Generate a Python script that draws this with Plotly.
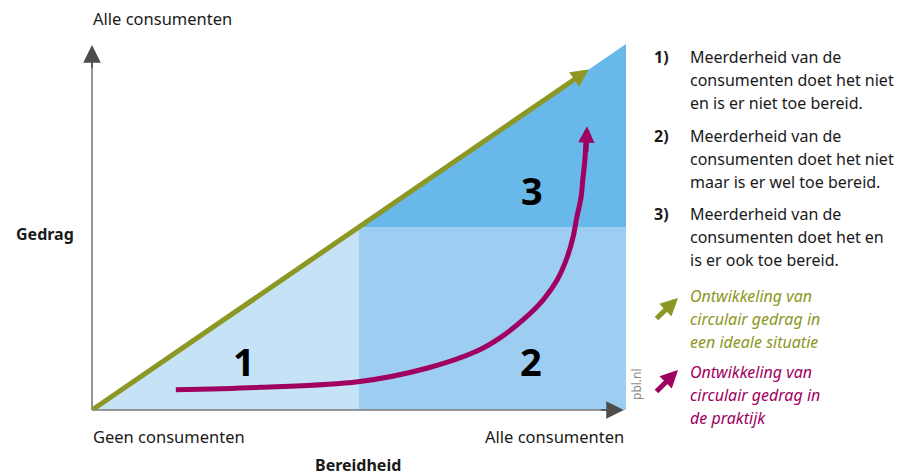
import plotly.graph_objects as go

# ---- data (conceptual units: 0 = geen consumenten, 1 = alle consumenten) ----
bereidheid_split = 0.5          # majority threshold on willingness axis
gedrag_split = 0.5              # majority threshold on behaviour axis
ideal_end = 0.93                # end of ideal development arrow (on diagonal)
praktijk_x = [0.157, 0.315, 0.498, 0.627, 0.721, 0.764, 0.807, 0.845, 0.871, 0.890,
              0.901, 0.908, 0.916, 0.919, 0.923, 0.925]
praktijk_y = [0.055, 0.062, 0.077, 0.114, 0.161, 0.197, 0.246, 0.301, 0.355, 0.418,
              0.473, 0.527, 0.582, 0.628, 0.683, 0.732]
praktijk_tip = (0.927, 0.775)
region_labels = ["1", "2", "3"]
legend_items = [
    ["Meerderheid van de", "consumenten doet het niet", "en is er niet toe bereid."],
    ["Meerderheid van de", "consumenten doet het niet", "maar is er wel toe bereid."],
    ["Meerderheid van de", "consumenten doet het en", "is er ook toe bereid."],
]
ideal_text = ["Ontwikkeling van", "circulair gedrag in", "een ideale situatie"]
praktijk_text = ["Ontwikkeling van", "circulair gedrag in", "de praktijk"]

# ---- styling ----
W, H = 906, 476
X0, X1 = 92, 626       # pixel positions of conceptual x=0 / x=1
Y0, Y1 = 410, 44       # pixel positions of conceptual y=0 / y=1
sx = X1 - X0
sy = Y0 - Y1
C1, C2, C3 = "#c5e2f7", "#9dcdf1", "#68b8ea"
GREEN = "#8c9724"
PURPLE = "#a0005f"
TXT = "#1a1a1a"
FONT = "Noto Sans"

def px(p):
    return p / W

def py(p):
    return 1 - p / H

fig = go.Figure()

# regions
fig.add_trace(go.Scatter(x=[0, bereidheid_split, bereidheid_split, 0],
                         y=[0, gedrag_split, 0, 0], fill="toself", fillcolor=C1,
                         mode="none", hoverinfo="skip"))
fig.add_trace(go.Scatter(x=[bereidheid_split, 1, 1, bereidheid_split, bereidheid_split],
                         y=[0, 0, gedrag_split, gedrag_split, 0], fill="toself", fillcolor=C2,
                         mode="none", hoverinfo="skip"))
fig.add_trace(go.Scatter(x=[bereidheid_split, 1, 1, bereidheid_split],
                         y=[gedrag_split, 1, gedrag_split, gedrag_split], fill="toself", fillcolor=C3,
                         mode="none", hoverinfo="skip"))

# axes lines
fig.add_trace(go.Scatter(x=[0, 0.975], y=[0, 0], mode="lines",
                         line=dict(color="#7a7a7a", width=1.6), hoverinfo="skip"))
fig.add_trace(go.Scatter(x=[0, 0], y=[0, 0.97], mode="lines",
                         line=dict(color="#7a7a7a", width=1.6), hoverinfo="skip"))

# praktijk curve
fig.add_trace(go.Scatter(x=praktijk_x, y=praktijk_y, mode="lines",
                         line=dict(color=PURPLE, width=5, shape="spline", smoothing=1.0),
                         hoverinfo="skip"))

ann = []
# axis arrowheads
ann.append(dict(x=0.996, y=0, ax=0.95, ay=0, xref="x", yref="y", axref="x", ayref="y",
                text="", showarrow=True, arrowhead=2, arrowwidth=1.6, arrowsize=2.2,
                arrowcolor="#4d4d4d"))
ann.append(dict(x=0, y=0.997, ax=0, ay=0.93, xref="x", yref="y", axref="x", ayref="y",
                text="", showarrow=True, arrowhead=2, arrowwidth=1.6, arrowsize=2.2,
                arrowcolor="#4d4d4d"))
# ideal arrow
ann.append(dict(x=ideal_end, y=ideal_end, ax=0, ay=0, xref="x", yref="y", axref="x", ayref="y",
                text="", showarrow=True, arrowhead=2, arrowwidth=5, arrowsize=0.7,
                arrowcolor=GREEN))
# praktijk arrowhead
ann.append(dict(x=praktijk_tip[0], y=praktijk_tip[1], ax=praktijk_x[-1], ay=praktijk_y[-1] - 0.03,
                xref="x", yref="y", axref="x", ayref="y",
                text="", showarrow=True, arrowhead=2, arrowwidth=5, arrowsize=0.65,
                arrowcolor=PURPLE))

# region numbers
for lab, (lx, ly) in zip(region_labels, [(0.285, 0.134), (0.822, 0.134), (0.824, 0.601)]):
    ann.append(dict(x=lx, y=ly, xref="x", yref="y", text="<b>%s</b>" % lab, showarrow=False,
                    font=dict(family=FONT, size=38, color="#000000")))

# axis texts
ann.append(dict(x=px(91), y=py(19), xref="paper", yref="paper", text="Alle consumenten",
                showarrow=False, xanchor="left", yanchor="middle",
                font=dict(family=FONT, size=16.5, color=TXT)))
ann.append(dict(x=px(91), y=py(436), xref="paper", yref="paper", text="Geen consumenten",
                showarrow=False, xanchor="left", yanchor="middle",
                font=dict(family=FONT, size=16.5, color=TXT)))
ann.append(dict(x=px(626), y=py(436), xref="paper", yref="paper", text="Alle consumenten",
                showarrow=False, xanchor="right", yanchor="middle",
                font=dict(family=FONT, size=16.5, color=TXT)))
ann.append(dict(x=px(45), y=py(234), xref="paper", yref="paper", text="<b>Gedrag</b>",
                showarrow=False, xanchor="center", yanchor="middle",
                font=dict(family=FONT, size=16, color=TXT)))
ann.append(dict(x=px(358), y=py(465), xref="paper", yref="paper", text="<b>Bereidheid</b>",
                showarrow=False, xanchor="center", yanchor="middle",
                font=dict(family=FONT, size=16, color=TXT)))

# legend numbered items
for i, lines in enumerate(legend_items):
    y_first = [57, 136, 214][i]
    ann.append(dict(x=px(652), y=py(y_first), xref="paper", yref="paper",
                    text="<b>%d)</b>" % (i + 1), showarrow=False, xanchor="left", yanchor="middle",
                    font=dict(family=FONT, size=16, color=TXT)))
    for j, line in enumerate(lines):
        ann.append(dict(x=px(688), y=py(y_first + j * 22.8), xref="paper", yref="paper",
                        text=line, showarrow=False, xanchor="left", yanchor="middle",
                        font=dict(family=FONT, size=16, color=TXT)))

# legend arrows + italic texts
for lines, col, y_first, (t, tail) in [
        (ideal_text, GREEN, 296, ((678, 298), (655, 320))),
        (praktijk_text, PURPLE, 372, ((678, 370), (655, 393)))]:
    ann.append(dict(x=px(t[0]), y=py(t[1]), ax=tail[0] - t[0], ay=tail[1] - t[1],
                    xref="paper", yref="paper", axref="pixel", ayref="pixel",
                    text="", showarrow=True, arrowhead=2, arrowwidth=5, arrowsize=0.7,
                    arrowcolor=col))
    for j, line in enumerate(lines):
        ann.append(dict(x=px(688), y=py(y_first + j * 22.8), xref="paper", yref="paper",
                        text="<i>%s</i>" % line, showarrow=False, xanchor="left", yanchor="middle",
                        font=dict(family=FONT, size=16, color=col)))

# source
ann.append(dict(x=px(636), y=py(384), xref="paper", yref="paper", text="pbl.nl",
                showarrow=False, textangle=-90, xanchor="center", yanchor="middle",
                font=dict(family=FONT, size=12, color="#8a8a8a")))

fig.update_layout(
    width=W, height=H,
    margin=dict(l=0, r=0, t=0, b=0),
    paper_bgcolor="white", plot_bgcolor="white",
    showlegend=False,
    xaxis=dict(range=[-X0 / sx, (W - X0) / sx], visible=False, fixedrange=True),
    yaxis=dict(range=[-(H - Y0) / sy, Y0 / sy], visible=False, fixedrange=True),
    annotations=ann,
)

fig.write_html("out.html", config={"displayModeBar": False},
               post_script="document.body.style.margin='0px';document.body.style.overflow='hidden';")
